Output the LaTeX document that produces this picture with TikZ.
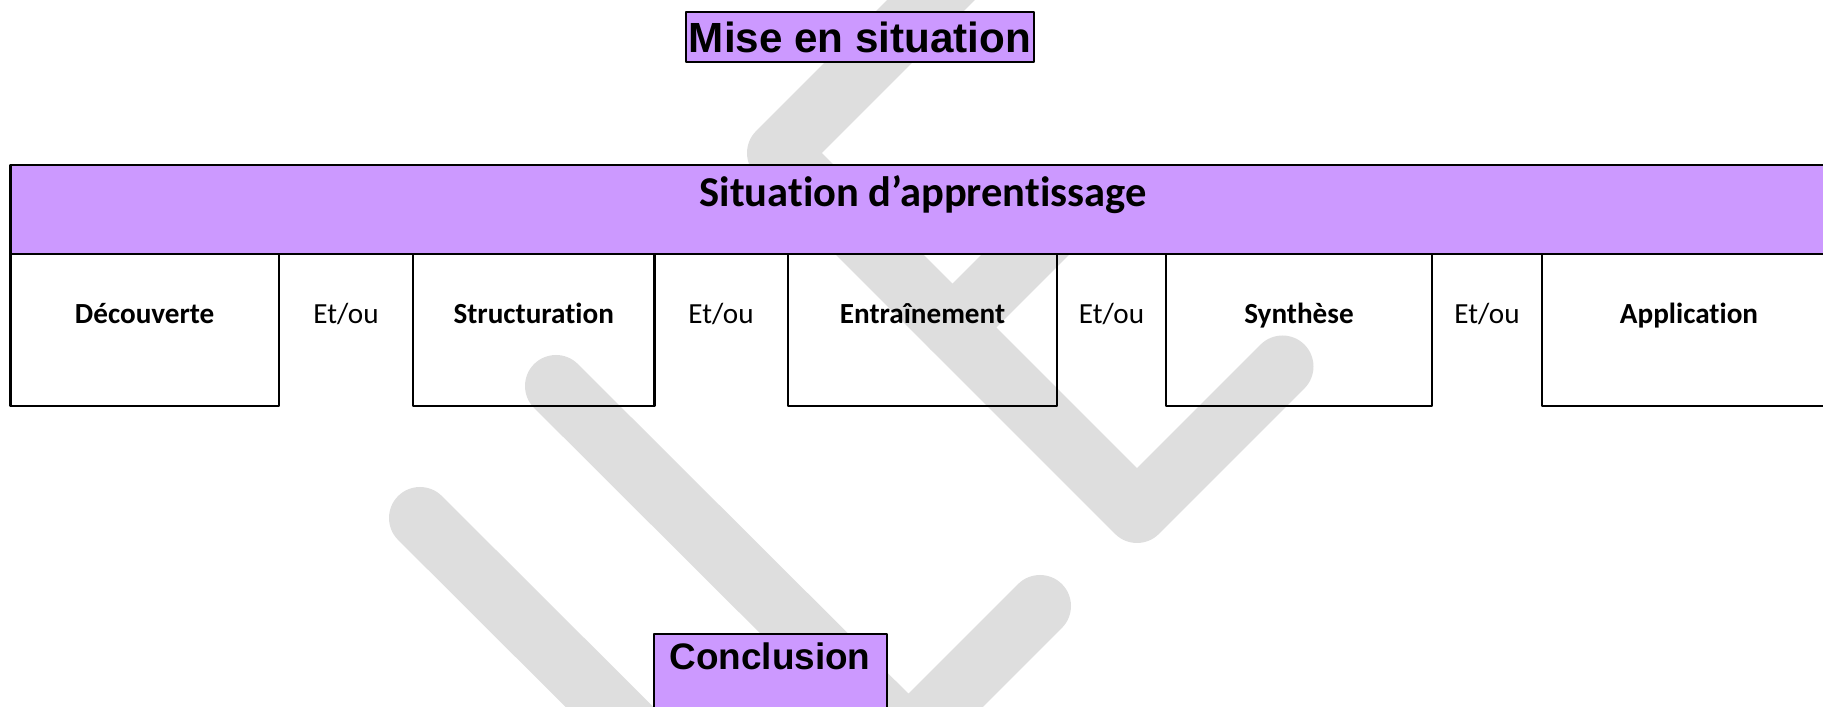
\documentclass[tikz,border=0pt]{standalone}
\usepackage{fontspec}
\setmainfont{Carlito}[Ligatures=NoCommon]
\newfontfamily\arialfont{Liberation Sans}
\definecolor{lilas}{RGB}{204,153,255}
\definecolor{filigrane}{RGB}{222,222,222}
\begin{document}
\begin{tikzpicture}[line join=round,line cap=round,font=\fontsize{8.3}{10}\selectfont,scale=1,
	cadre/.style={draw,line width=0.62pt},
	marque/.style={filigrane,line width=0.62cm},
	etape/.style={anchor=base,font=\fontsize{8.3}{10}\selectfont\bfseries},
	etou/.style={anchor=base}]
			\useasboundingbox (0,0) rectangle (18.23,7.07);
			\clip (0,0) rectangle (18.23,7.07);
			\draw[marque] (9.81,7.57)--(7.78,5.54)--(11.37,1.95)--(12.825,3.405);
			\draw[marque] (10.80,5.07)--(9.525,3.795);
			\draw[marque] (5.56,3.21)--(9.085,-0.305)--(10.40,1.01);
			\draw[marque] (4.20,1.89)--(7.72,-1.62);
			\node[cadre,fill=lilas,minimum width=3.48cm,minimum height=0.5cm,inner sep=0pt,
			font=\arialfont\fontsize{12}{14}\selectfont\bfseries] (mise) at (8.60,6.70) {Mise en situation};
			\draw[cadre,fill=lilas] (0.105,5.42) rectangle (18.36,4.53);
			\node[anchor=base,font=\fontsize{12.1}{14}\selectfont\bfseries] (situation) at (9.23,5.00) {Situation d’apprentissage};
			\draw[cadre] (0.105,4.53) rectangle (2.79,3.01) (4.13,4.53) rectangle (6.545,3.01)
			(7.88,4.53) rectangle (10.57,3.01) (11.66,4.53) rectangle (14.32,3.01) (15.416,4.53) rectangle (18.36,3.01);
			\node[etape] (decouverte) at (1.447,3.83) {Découverte};
			\node[etou] (etou1) at (3.46,3.83) {Et/ou};
			\node[etape] (structuration) at (5.337,3.83) {Structuration};
			\node[etou] (etou2) at (7.21,3.83) {Et/ou};
			\node[etape] (entrainement) at (9.225,3.83) {Entraînement};
			\node[etou] (etou3) at (11.115,3.83) {Et/ou};
			\node[etape] (synthese) at (12.99,3.83) {Synthèse};
			\node[etou] (etou4) at (14.87,3.83) {Et/ou};
			\node[etape] (application) at (16.89,3.83) {Application};
			\draw[cadre,fill=lilas] (6.537,0.73) rectangle (8.87,-0.3);
			\node[anchor=base,font=\arialfont\fontsize{10.5}{12}\selectfont\bfseries] (conclusion) at (7.70,0.37) {Conclusion};
		\end{tikzpicture}
\end{document}
